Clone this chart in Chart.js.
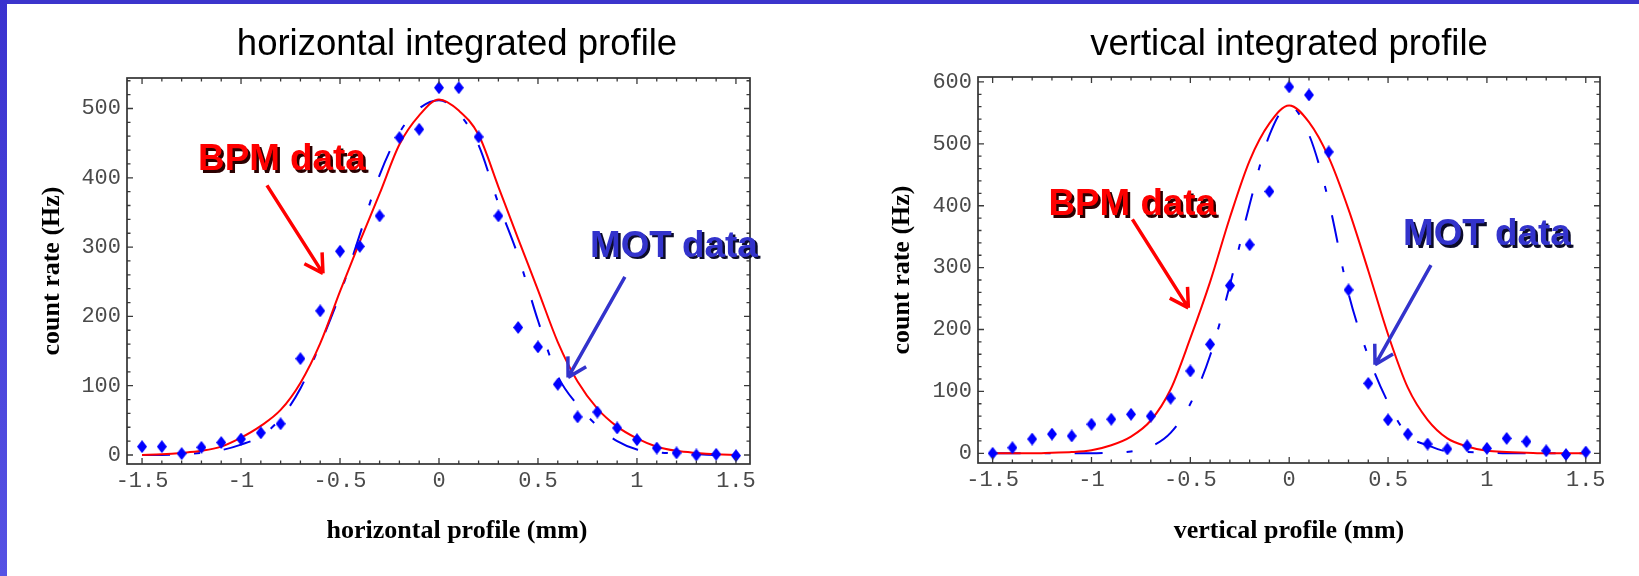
<!DOCTYPE html>
<html>
<head>
<meta charset="utf-8">
<title>integrated profiles</title>
<script src="https://cdn.jsdelivr.net/npm/chart.js@4.4.1/dist/chart.umd.min.js"></script>
<style>
  html, body { margin: 0; padding: 0; background: #fff; overflow: hidden; }
  #page { position: relative; width: 1639px; height: 576px; overflow: hidden; background: #fff; }
  #page canvas { position: absolute; top: 0; }
  #bar-top { position: absolute; left: 0; top: 0; width: 1639px; height: 4px; background: #3c35cc; }
  #bar-left { position: absolute; left: 0; top: 0; width: 7px; height: 576px; background: linear-gradient(#3a32cf, #5652e4); }
</style>
</head>
<body>
<div id="page">
  <canvas id="h-chart" width="884" height="576" style="left:0"></canvas>
  <canvas id="v-chart" width="878" height="576" style="left:820px"></canvas>
  <div id="bar-top"></div>
  <div id="bar-left"></div>
</div>
<script>
// beam positions (mm), shared by every series
const positions = [-1.5, -1.4, -1.3, -1.2, -1.1, -1.0, -0.9, -0.8, -0.7, -0.6, -0.5, -0.4, -0.3, -0.2, -0.1,
  0, 0.1, 0.2, 0.3, 0.4, 0.5, 0.6, 0.7, 0.8, 0.9, 1.0, 1.1, 1.2, 1.3, 1.4, 1.5];

// horizontal profile (Hz)
const hMotPoints = [12, 12, 2, 11, 18, 23, 32, 45, 139, 208, 294, 301, 345, 458, 470,
  530, 530, 459, 345, 184, 156, 102, 55, 62, 39, 22, 10, 3, 0, 1, -1];
const hBpmFit = [0, 1, 3, 6, 12, 25, 42, 65, 104, 161, 236, 308, 377, 448, 490,
  513, 497, 462, 387, 312, 238, 163, 106, 67, 41, 24, 12, 6, 3, 1, 0];
const hMotFit = [0, 0, 1, 3, 7, 15, 27, 53, 96, 160, 232, 318, 404, 465, 500,
  512, 493, 447, 363, 287, 194, 114, 72, 42, 20, 8, 4, 2, 1, 0, 0];

// vertical profile (Hz)
const vMotPoints = [0, 9, 23, 31, 28, 47, 55, 63, 60, 89, 133, 176, 271, 337, 423,
  592, 579, 487, 264, 113, 54, 31, 15, 7, 12, 8, 24, 19, 4, -2, 2];
const vBpmFit = [0, 0, 0, 1, 2, 5, 13, 27, 53, 103, 186, 277, 381, 473, 533,
  562, 535, 478, 394, 295, 192, 106, 54, 24, 11, 4, 2, 1, 0, 0, 0];
const vMotFit = [0, 0, 0, 0, 0, 0, 1, 3, 11, 33, 80, 158, 272, 402, 514,
  562, 515, 407, 258, 157, 82, 29, 13, 3, 2, 1, 0, 0, 0, 0, 0];

// tick labels
const xTickLabels = [-1.5, -1, -0.5, 0, 0.5, 1, 1.5];
const hYTickLabels = [0, 100, 200, 300, 400, 500];
const vYTickLabels = [0, 100, 200, 300, 400, 500, 600];

const toXY = ys => positions.map((x, i) => ({ x: x, y: ys[i] }));

// tall blue diamond used for the MOT points
function diamond(w, h, color) {
  const c = document.createElement('canvas');
  c.width = w; c.height = h;
  const g = c.getContext('2d');
  g.fillStyle = color;
  g.beginPath();
  g.moveTo(w / 2, 0); g.lineTo(w, h / 2); g.lineTo(w / 2, h); g.lineTo(0, h / 2);
  g.closePath();
  g.fill();
  return c;
}
const diamondMark = diamond(10, 13, '#0000ff');

// box round the plot with inward ticks on all four sides
const frameTicks = {
  id: 'frameTicks',
  afterDatasetsDraw(chart, args, opts) {
    const { ctx, chartArea: a, scales: { x, y } } = chart;
    ctx.save();
    ctx.strokeStyle = '#3a3a3a';
    ctx.lineWidth = 1.3;
    ctx.beginPath();
    for (let i = Math.ceil(x.min / opts.xMinor); i * opts.xMinor <= x.max; i++) {
      const v = i * opts.xMinor;
      const len = Math.abs(v / opts.xMajor - Math.round(v / opts.xMajor)) < 1e-6 ? 6 : 3.5;
      const px = x.getPixelForValue(v);
      ctx.moveTo(px, a.bottom); ctx.lineTo(px, a.bottom - len);
      ctx.moveTo(px, a.top); ctx.lineTo(px, a.top + len);
    }
    for (let i = Math.ceil(y.min / opts.yMinor); i * opts.yMinor <= y.max; i++) {
      const v = i * opts.yMinor;
      const len = v % opts.yMajor === 0 ? 6 : 3.5;
      const py = y.getPixelForValue(v);
      ctx.moveTo(a.left, py); ctx.lineTo(a.left + len, py);
      ctx.moveTo(a.right, py); ctx.lineTo(a.right - len, py);
    }
    ctx.stroke();
    ctx.lineWidth = 1.7;
    ctx.strokeStyle = '#333';
    ctx.strokeRect(a.left, a.top, a.width, a.height);
    ctx.restore();
  }
};

// "BPM data" / "MOT data" labels with their arrows
const callouts = {
  id: 'callouts',
  afterDatasetsDraw(chart, args, opts) {
    const { ctx, scales: { x, y } } = chart;
    opts.items.forEach(it => {
      const tx = x.getPixelForValue(it.at[0]), ty = y.getPixelForValue(it.at[1]);
      ctx.save();
      ctx.font = 'bold 36.8px "Liberation Sans", Arial, sans-serif';
      ctx.textBaseline = 'alphabetic';
      ctx.fillStyle = it.shadow;
      ctx.fillText(it.text, tx + 2.5, ty + 2.5);
      ctx.fillStyle = it.color;
      ctx.fillText(it.text, tx, ty);

      const x0 = x.getPixelForValue(it.from[0]), y0 = y.getPixelForValue(it.from[1]);
      const x1 = x.getPixelForValue(it.to[0]), y1 = y.getPixelForValue(it.to[1]);
      const ang = Math.atan2(y1 - y0, x1 - x0);
      ctx.strokeStyle = it.color;
      ctx.lineWidth = 3.5;
      ctx.beginPath();
      ctx.moveTo(x0, y0); ctx.lineTo(x1, y1);
      [-1, 1].forEach(s => {
        const b = ang + Math.PI + s * Math.PI / 6;
        ctx.moveTo(x1, y1);
        ctx.lineTo(x1 + 21 * Math.cos(b), y1 + 21 * Math.sin(b));
      });
      ctx.stroke();
      ctx.restore();
    });
  }
};

const tickFont = { family: '"Liberation Mono", "Courier New", monospace', size: 22 };

function profileChart(canvas, cfg) {
  return new Chart(canvas.getContext('2d'), {
    type: 'scatter',
    data: {
      datasets: [
        { label: 'MOT data', data: toXY(cfg.points), pointStyle: diamondMark, pointRadius: 5, showLine: false },
        { type: 'line', label: 'BPM fit', data: toXY(cfg.bpmFit), borderColor: '#ff0000', borderWidth: 2,
          pointRadius: 0, cubicInterpolationMode: 'monotone', fill: false },
        { type: 'line', label: 'MOT fit', data: toXY(cfg.motFit), borderColor: '#0000ee', borderWidth: 2,
          borderDash: [28, 24, 6, 24], pointRadius: 0, cubicInterpolationMode: 'monotone', fill: false }
      ]
    },
    options: {
      responsive: false,
      animation: false,
      layout: { padding: { left: cfg.padLeft, right: 0, top: 0, bottom: 0 } },
      scales: {
        x: {
          type: 'linear',
          min: cfg.xMin, max: cfg.xMax,
          afterBuildTicks: s => { s.ticks = xTickLabels.map(v => ({ value: v })); },
          afterFit: s => { s.height = 40; },
          ticks: { autoSkip: false, maxRotation: 0, padding: 4, font: tickFont, color: '#4a4a4a', callback: v => String(v) },
          grid: { display: false, drawTicks: false },
          border: { display: false }
        },
        y: {
          type: 'linear',
          min: cfg.yMin, max: cfg.yMax,
          afterBuildTicks: s => { s.ticks = cfg.yTicks.map(v => ({ value: v })); },
          afterFit: s => { s.width = cfg.yAxisWidth; },
          ticks: { autoSkip: false, padding: 6, font: tickFont, color: '#4a4a4a', callback: v => String(v) },
          grid: { display: false, drawTicks: false },
          border: { display: false },
          title: {
            display: true, text: 'count rate (Hz)', color: '#000',
            font: { family: '"Liberation Serif", "Times New Roman", serif', size: 26, weight: 'bold' },
            padding: { top: 7, bottom: 0 }
          }
        },
        pad: {
          type: 'linear', position: 'right',
          afterFit: s => { s.width = cfg.rightWidth; },
          ticks: { display: false }, grid: { display: false }, border: { display: false }
        }
      },
      plugins: {
        legend: { display: false },
        tooltip: { enabled: false },
        title: {
          display: true, text: cfg.title, color: '#000',
          font: { family: '"Liberation Sans", Arial, sans-serif', size: 36.5, weight: 'normal' },
          padding: { top: 23, bottom: cfg.titleGap }
        },
        subtitle: {
          display: true, position: 'bottom', text: cfg.xTitle, color: '#000',
          font: { family: '"Liberation Serif", "Times New Roman", serif', size: 26, weight: 'bold' },
          padding: { top: cfg.xTitleGap, bottom: 29.4 }
        },
        frameTicks: { xMinor: 0.1, xMajor: 0.5, yMinor: 20, yMajor: 100 },
        callouts: { items: cfg.notes }
      }
    },
    plugins: [frameTicks, callouts]
  });
}

profileChart(document.getElementById('h-chart'), {
  title: 'horizontal integrated profile',
  xTitle: 'horizontal profile (mm)',
  points: hMotPoints, bpmFit: hBpmFit, motFit: hMotFit,
  xMin: -1.576, xMax: 1.571, yMin: -13, yMax: 544, yTicks: hYTickLabels,
  padLeft: 30, yAxisWidth: 97, rightWidth: 134, titleGap: 11.2, xTitleGap: 11.4,
  notes: [
    { text: 'BPM data', color: '#ff0000', shadow: '#2a0000', at: [-1.217, 411], from: [-0.869, 389], to: [-0.586, 262] },
    { text: 'MOT data', color: '#3333cc', shadow: '#0c0c2a', at: [0.763, 286], from: [0.939, 257], to: [0.652, 112] }
  ]
});

profileChart(document.getElementById('v-chart'), {
  title: 'vertical integrated profile',
  xTitle: 'vertical profile (mm)',
  points: vMotPoints, bpmFit: vBpmFit, motFit: vMotFit,
  xMin: -1.574, xMax: 1.572, yMin: -15.7, yMax: 608, yTicks: vYTickLabels,
  padLeft: 60, yAxisWidth: 98, rightWidth: 98, titleGap: 10.2, xTitleGap: 12.4,
  notes: [
    { text: 'BPM data', color: '#ff0000', shadow: '#2a0000', at: [-1.218, 385], from: [-0.793, 378], to: [-0.510, 235] },
    { text: 'MOT data', color: '#3333cc', shadow: '#0c0c2a', at: [0.576, 336], from: [0.717, 304], to: [0.434, 143] }
  ]
});
</script>
</body>
</html>
